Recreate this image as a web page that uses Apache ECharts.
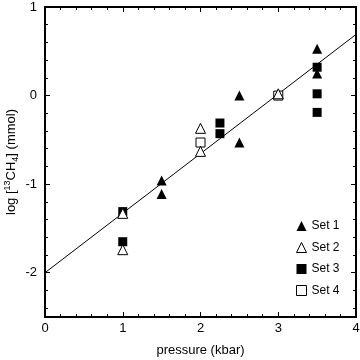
<!DOCTYPE html>
<html>
<head>
<meta charset="utf-8">
<script src="https://cdn.jsdelivr.net/npm/echarts@6/dist/echarts.min.js"></script>
<style>
html,body{margin:0;padding:0;background:#fff;}
#c{width:360px;height:360px;}
</style>
</head>
<body>
<div id="c"></div>
<script>
// Data
var set1 = [[1.5,-0.96],[1.5,-1.11],[2.5,0.0],[2.5,-0.53],[3.5,0.53],[3.5,0.25]];
var set2 = [[1,-1.33],[1,-1.74],[2,-0.37],[2,-0.63],[3,0.02]];
var set3 = [[1,-1.31],[1,-1.65],[2.25,-0.31],[2.25,-0.43],[3.5,0.32],[3.5,0.02],[3.5,-0.19]];
var set4 = [[2,-0.53],[3,0.0]];
var fitLine = [[0,-2.0],[4,0.69]];
var seriesNames = ['Set 1','Set 2','Set 3','Set 4'];
var xTicks = [0,1,2,3,4];
var yTicks = [1,0,-1,-2];
var xName = 'pressure (kbar)';

var FONT = '"Liberation Sans", Arial, Helvetica, sans-serif';
var chart = echarts.init(document.getElementById('c'), null, {renderer:'canvas'});

var axisLineStyle = {color:'#000', width:2};
function tickAxisY(pos, interval, len, showLabel) {
  // inverted helper axis: value u = 1 - y, ticks counted from top (y = 1)
  return {
    type:'value', position:pos, inverse:true, min:0, max:3.5, interval:interval,
    gridIndex:0,
    axisLine:{show:true, onZero:false, lineStyle:axisLineStyle},
    axisTick:{show:true, inside:true, length:len, lineStyle:{color:'#000', width:1}},
    axisLabel:{show:showLabel, color:'#000', fontSize:13, fontFamily:FONT, margin:8,
      showMinLabel:true, showMaxLabel:false,
      formatter:function(u){ var y = Math.round((1-u)*10)/10; return (yTicks.indexOf(y) >= 0) ? String(y) : ''; }},
    splitLine:{show:false}
  };
}

var option = {
  animation:false,
  backgroundColor:'#fff',
  grid:{left:45, top:7, width:311, height:310, containLabel:false, outerBoundsMode:'none'},
  legend:{
    orient:'vertical', left:291, top:215, itemWidth:10, itemHeight:10, itemGap:9.5,
    textStyle:{color:'#000', fontSize:12, fontFamily:FONT},
    itemStyle:{borderWidth:1},
    data:seriesNames
  },
  xAxis:[
    {type:'value', position:'bottom', min:0, max:4, interval:1,
     name:xName, nameLocation:'middle', nameGap:27,
     nameTextStyle:{color:'#000', fontSize:13, fontFamily:FONT},
     axisLine:{show:true, onZero:false, lineStyle:axisLineStyle},
     axisTick:{show:true, inside:true, length:5, lineStyle:{color:'#000', width:1}},
     minorTick:{show:true, splitNumber:5, length:3, lineStyle:{color:'#000', width:1}},
     axisLabel:{color:'#000', fontSize:13, fontFamily:FONT, margin:5,
       formatter:function(v){ return xTicks.indexOf(v) >= 0 ? String(v) : ''; }},
     splitLine:{show:false}},
    {type:'value', position:'top', min:0, max:4, interval:1,
     axisLine:{show:true, onZero:false, lineStyle:axisLineStyle},
     axisTick:{show:true, inside:true, length:5, lineStyle:{color:'#000', width:1}},
     minorTick:{show:true, splitNumber:5, length:3, lineStyle:{color:'#000', width:1}},
     axisLabel:{show:false}, splitLine:{show:false}}
  ],
  yAxis:[
    // data axis
    {type:'value', position:'left', min:-2.5, max:1,
     name:'{t|log [}{sup|13}{t|CH}{sub|4}{t|] (mmol)}',
     nameLocation:'middle', nameGap:25, nameRotate:90,
     nameTextStyle:{color:'#000', fontSize:13, fontFamily:FONT,
       rich:{
         t:{fontSize:13, fontFamily:FONT, color:'#000', lineHeight:17, verticalAlign:'middle'},
         sup:{fontSize:9, fontFamily:FONT, color:'#000', lineHeight:10, verticalAlign:'top'},
         sub:{fontSize:9, fontFamily:FONT, color:'#000', lineHeight:10, verticalAlign:'bottom'}
       }},
     axisLine:{show:true, onZero:false, lineStyle:axisLineStyle},
     axisTick:{show:false}, axisLabel:{show:false}, splitLine:{show:false}},
    tickAxisY('left', 1, 5, true),
    tickAxisY('left', 0.2, 3, false),
    tickAxisY('right', 1, 5, false),
    tickAxisY('right', 0.2, 3, false)
  ],
  series:[
    {name:'fit', type:'line', data:fitLine, xAxisIndex:0, yAxisIndex:0,
     showSymbol:false, symbol:'none', lineStyle:{color:'#000', width:1}, silent:true, z:1},
    {name:seriesNames[0], type:'scatter', data:set1, xAxisIndex:0, yAxisIndex:0,
     symbol:'triangle', symbolSize:[10,10], itemStyle:{color:'#000', opacity:1}, z:3},
    {name:seriesNames[2], type:'scatter', data:set3, xAxisIndex:0, yAxisIndex:0,
     symbol:'rect', symbolSize:[9,9], itemStyle:{color:'#000', opacity:1}, z:3},
    {name:seriesNames[3], type:'scatter', data:set4, xAxisIndex:0, yAxisIndex:0,
     symbol:'rect', symbolSize:[9,9], itemStyle:{color:'#fff', borderColor:'#000', borderWidth:1, opacity:1}, z:4},
    {name:seriesNames[1], type:'scatter', data:set2, xAxisIndex:0, yAxisIndex:0,
     symbol:'triangle', symbolSize:[10,10], itemStyle:{color:'#fff', borderColor:'#000', borderWidth:1, opacity:1}, z:5}
  ]
};
chart.setOption(option);
</script>
</body>
</html>
